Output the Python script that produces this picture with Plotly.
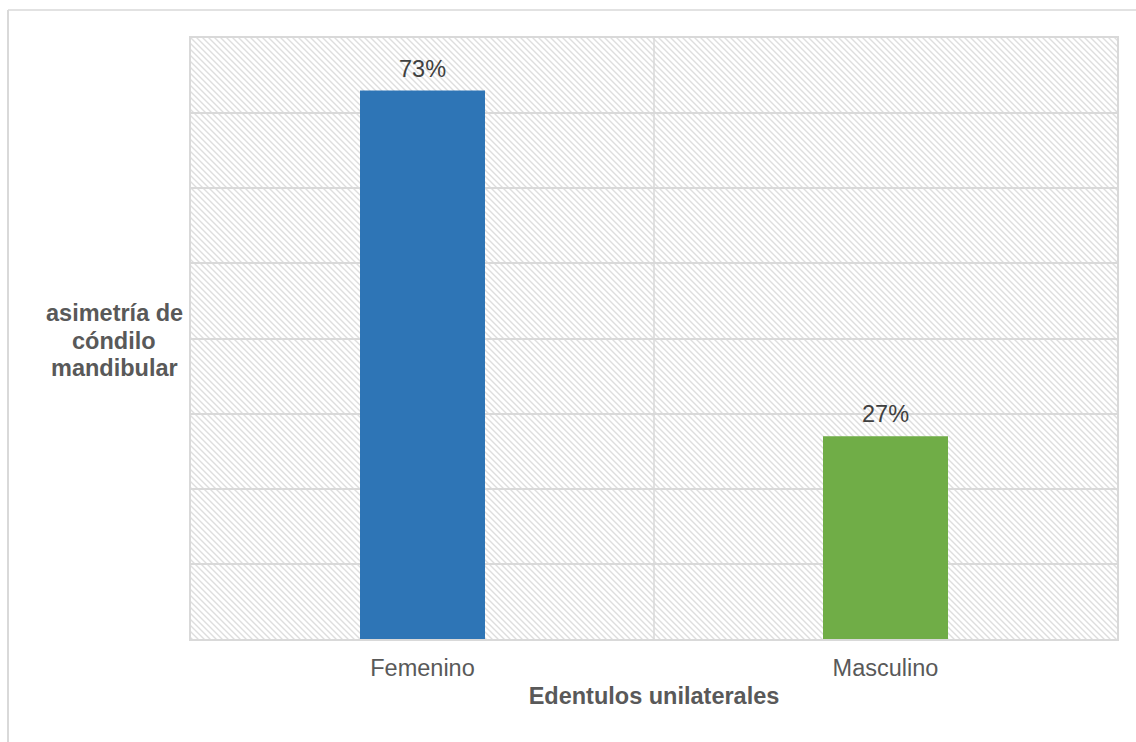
import base64
import plotly.graph_objects as go

categories = ["Femenino", "Masculino"]
values = [0.73, 0.27]
labels = ["73%", "27%"]
colors = ["#2E75B6", "#70AD47"]

x_title = "Edentulos unilaterales"
y_title_lines = ["asimetría de", "cóndilo", "mandibular"]

W, H = 1136, 742
ML, MR, MT, MB = 191, 19, 38, 103
PW, PH = W - ML - MR, H - MT - MB
FONT = "Liberation Sans, Arial"

# diagonal hatch background (decorative), as an svg image
s = 6
svg = (
    f'<svg xmlns="http://www.w3.org/2000/svg" width="{PW}" height="{PH}">'
    f'<defs><pattern id="p" patternUnits="userSpaceOnUse" width="{s}" height="{s}">'
    f'<path d="M-1,-1 L{s+1},{s+1} M-1,{s-1} L1,{s+1} M{s-1},-1 L{s+1},1" '
    f'stroke="#dedede" stroke-width="1.4"/></pattern></defs>'
    f'<rect width="{PW}" height="{PH}" fill="white"/>'
    f'<rect width="{PW}" height="{PH}" fill="url(#p)"/></svg>'
)
src = "data:image/svg+xml;base64," + base64.b64encode(svg.encode()).decode()

fig = go.Figure()
fig.add_trace(go.Bar(
    x=categories, y=values, width=0.27,
    marker=dict(color=colors, line=dict(width=0)),
    hoverinfo="skip",
))

annotations = []
for c, v, t in zip(categories, values, labels):
    annotations.append(dict(
        x=c, y=v, xref="x", yref="y", text=t, showarrow=False,
        xanchor="center", yanchor="bottom", yshift=7,
        font=dict(family=FONT, size=23.5, color="#404040"),
    ))
for i, line in enumerate(y_title_lines):
    py = 313 + i * 27.5
    annotations.append(dict(
        text="<b>" + line + "</b>", xref="paper", yref="paper",
        x=(114 - ML) / PW, y=(H - MB - py) / PH, xanchor="center", yanchor="middle",
        showarrow=False, font=dict(size=23.5, color="#595959", family=FONT),
    ))

grid = "#d9d9d9"
fig.update_layout(
    width=W, height=H,
    margin=dict(l=ML, r=MR, t=MT, b=MB, pad=0),
    paper_bgcolor="white", plot_bgcolor="rgba(0,0,0,0)",
    showlegend=False,
    font=dict(family=FONT, size=23.5, color="#595959"),
    xaxis=dict(
        range=[-0.5, 1.5], showgrid=False, showline=True, linecolor=grid,
        linewidth=1.5, mirror=True, ticks="", zeroline=False,
        tickfont=dict(size=23.5, color="#595959", family=FONT),
        ticklabelstandoff=7,
        title=dict(text="<b>" + x_title + "</b>",
                   font=dict(size=23.5, color="#595959", family=FONT), standoff=8),
    ),
    yaxis=dict(
        range=[0, 0.8], dtick=0.1, showgrid=True, gridcolor=grid, gridwidth=1.5,
        showticklabels=False, showline=True, linecolor=grid, linewidth=1.5,
        mirror=True, zeroline=False, ticks="",
    ),
    images=[dict(source=src, xref="paper", yref="paper", x=0, y=1,
                 sizex=1, sizey=1, sizing="stretch", layer="below",
                 xanchor="left", yanchor="top")],
    annotations=annotations,
    shapes=[
        dict(type="line", xref="x", yref="paper", x0=0.5, x1=0.5, y0=0, y1=1,
             line=dict(color=grid, width=1.5), layer="below"),
        dict(type="line", xref="paper", yref="paper",
             x0=(8 - ML) / PW, x1=(W + 5 - ML) / PW,
             y0=(H - MB - 10) / PH, y1=(H - MB - 10) / PH,
             line=dict(color=grid, width=1.5)),
        dict(type="line", xref="paper", yref="paper",
             x0=(8 - ML) / PW, x1=(8 - ML) / PW,
             y0=(H - MB - 10) / PH, y1=(H - MB - H - 5) / PH,
             line=dict(color=grid, width=2)),
    ],
)

fig.write_html("out.html")
